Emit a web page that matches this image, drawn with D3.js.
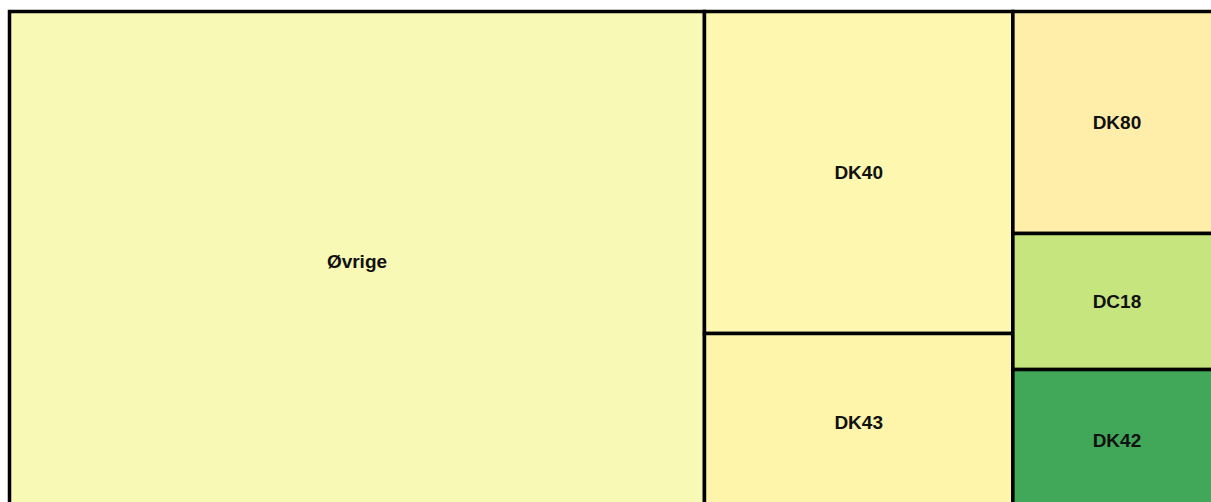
<!DOCTYPE html>
<html>
<head>
<meta charset="utf-8">
<script src="https://cdn.jsdelivr.net/npm/d3@7"></script>
<style>
  body { margin: 0; background: #fff; }
  text { font-family: Arial, "Liberation Sans", sans-serif; font-weight: bold; }
</style>
</head>
<body>
<div id="treemap"></div>
<script>
// categories, values (share in %) and fill colours
var names  = ["Øvrige", "DK40", "DK43", "DK80", "DC18", "DK42"];
var values = [57.37, 16.38, 9.08, 7.62, 4.67, 4.89];
var colors = ["#f8f9b4", "#fef7b0", "#fef4aa", "#feeeaa", "#c6e57e", "#41a85a"];

var margin = {top: 11.5, left: 9.5},
    width = 1211, height = 502;

var svg = d3.select("#treemap")
    .append("svg")
        .attr("width", width)
        .attr("height", height)
    .append("g")
        .attr("transform", "translate(" + margin.left + "," + margin.top + ")");

var data = {children: names.map(function(n, i) { return {name: n, value: values[i], color: colors[i]}; })};

var root = d3.hierarchy(data).sum(function(d) { return d.value || 0; });

// chart continues past the right and bottom edge of the window
d3.treemap()
    .tile(d3.treemapSquarify.ratio(1))
    .size([1211.5, 500.5])
    (root);

var cell = svg.selectAll("g.cell")
    .data(root.leaves())
    .enter()
    .append("g")
        .attr("class", "cell");

cell.append("rect")
    .attr("x", d => d.x0)
    .attr("y", d => d.y0)
    .attr("width", d => d.x1 - d.x0)
    .attr("height", d => d.y1 - d.y0)
    .style("fill", d => d.data.color)
    .style("stroke", "#000")
    .style("stroke-width", 3.5);

cell.append("text")
    .attr("x", d => (d.x0 + d.x1) / 2)
    .attr("y", d => (d.y0 + d.y1) / 2)
    .attr("text-anchor", "middle")
    .attr("dominant-baseline", "central")
    .style("font-size", "19px")
    .style("fill", "#111")
    .text(d => d.data.name);
</script>
</body>
</html>
